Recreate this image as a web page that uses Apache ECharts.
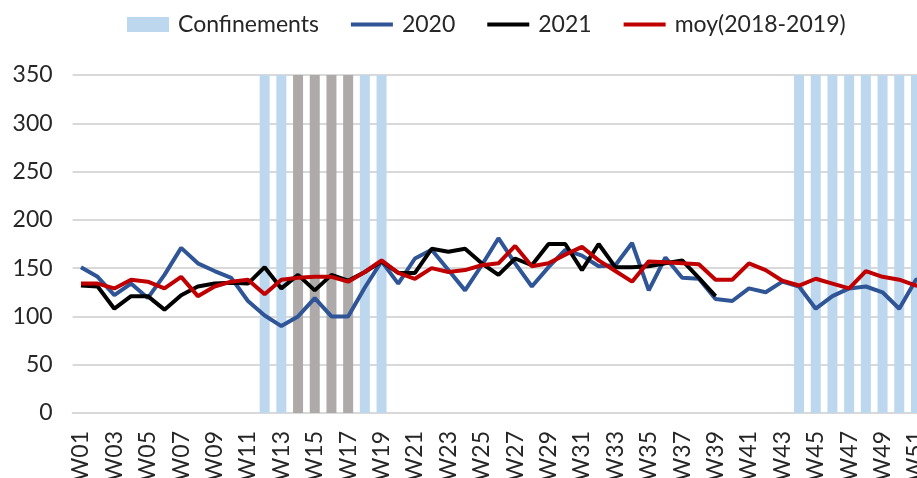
<!DOCTYPE html>
<html>
<head>
<meta charset="utf-8">
<script src="https://cdn.jsdelivr.net/npm/echarts@6/dist/echarts.min.js"></script>
<style>
html,body{margin:0;padding:0;background:#fff;}
#chart{width:917px;height:478px;}
</style>
</head>
<body>
<div id="chart"></div>
<script>
var weeks = ['W01','W02','W03','W04','W05','W06','W07','W08','W09','W10','W11','W12','W13','W14','W15','W16','W17','W18','W19','W20','W21','W22','W23','W24','W25','W26','W27','W28','W29','W30','W31','W32','W33','W34','W35','W36','W37','W38','W39','W40','W41','W42','W43','W44','W45','W46','W47','W48','W49','W50','W51','W52'];

var confinementWeeks = ['W12','W13','W14','W15','W16','W17','W18','W19','W44','W45','W46','W47','W48','W49','W50','W51'];
var strictWeeks = ['W14','W15','W16','W17'];
var confinementLevel = 350;

var s2020 = [151,141,122,134,119,143,171,155,147,140,116,101,90,100,119,100,100,130,157,134,160,169,148,127,153,181,155,131,151,169,163,152,153,176,127,161,140,139,118,116,129,125,136,131,108,121,129,131,125,108,138,140];

var s2021 = [132,131,108,121,121,107,122,131,134,135,134,151,129,143,127,143,137,146,157,145,145,170,167,170,155,143,160,153,175,175,148,175,151,151,152,155,158,140,121,null,null,null,null,null,null,null,null,null,null,null,null,null];

var sMoy = [134,134,129,138,136,129,141,121,131,136,138,123,138,140,141,141,136,146,158,145,139,150,146,148,153,155,173,152,155,164,172,158,147,136,157,156,155,154,138,138,155,148,137,132,139,134,129,147,141,138,132,130];

var yTicks = {min: 0, max: 350, interval: 50};

var colBlueLight = '#BDD7EE';
var colGray = '#AEAAAA';
var col2020 = '#2F5597';
var col2021 = '#000000';
var colMoy = '#C00000';

var barData = weeks.map(function (w) {
  if (confinementWeeks.indexOf(w) < 0) return null;
  return {
    value: confinementLevel,
    itemStyle: {color: strictWeeks.indexOf(w) >= 0 ? colGray : colBlueLight}
  };
});

var lineIcon = 'path://M0,0L40,0L40,4L0,4Z';

var FONT = 'Lato';
var chart = echarts.init(document.getElementById('chart'), null, {renderer: 'canvas'});
chart.setOption({
  animation: false,
  backgroundColor: '#ffffff',
  textStyle: {fontFamily: FONT},
  legend: {
    top: 8,
    left: 122,
    itemWidth: 42,
    itemHeight: 15,
    itemGap: 32,
    symbolKeepAspect: true,
    textStyle: {fontFamily: FONT, fontSize: 23, color: '#262626', padding: [0, 0, 0, 4]},
    data: [
      {name: 'Confinements', icon: 'rect', itemStyle: {color: colBlueLight}},
      {name: '2020', icon: lineIcon, itemStyle: {color: col2020}},
      {name: '2021', icon: lineIcon, itemStyle: {color: col2021}},
      {name: 'moy(2018-2019)', icon: lineIcon, itemStyle: {color: colMoy}}
    ]
  },
  grid: {left: 72.6, top: 75, width: 868.4, height: 338, outerBoundsMode: 'none', containLabel: false},
  xAxis: {
    type: 'category',
    data: weeks,
    boundaryGap: true,
    axisLine: {lineStyle: {color: '#D9D9D9', width: 2}},
    axisTick: {show: false},
    axisLabel: {rotate: 90, interval: 1, fontFamily: FONT, fontSize: 23, color: '#262626', margin: 18}
  },
  yAxis: {
    type: 'value',
    min: yTicks.min,
    max: yTicks.max,
    interval: yTicks.interval,
    axisLine: {show: false},
    axisTick: {show: false},
    axisLabel: {fontFamily: FONT, fontSize: 23, color: '#262626', margin: 20},
    splitLine: {lineStyle: {color: '#D9D9D9', width: 2}}
  },
  series: [
    {
      name: 'Confinements',
      type: 'bar',
      data: barData,
      barWidth: 10,
      itemStyle: {color: colBlueLight},
      z: 1
    },
    {
      name: '2020',
      type: 'line',
      data: s2020,
      symbol: 'none',
      lineStyle: {color: col2020, width: 4},
      itemStyle: {color: col2020},
      z: 3
    },
    {
      name: '2021',
      type: 'line',
      data: s2021,
      symbol: 'none',
      lineStyle: {color: col2021, width: 4},
      itemStyle: {color: col2021},
      z: 4
    },
    {
      name: 'moy(2018-2019)',
      type: 'line',
      data: sMoy,
      symbol: 'none',
      lineStyle: {color: colMoy, width: 4},
      itemStyle: {color: colMoy},
      z: 5
    }
  ]
});
</script>
</body>
</html>
